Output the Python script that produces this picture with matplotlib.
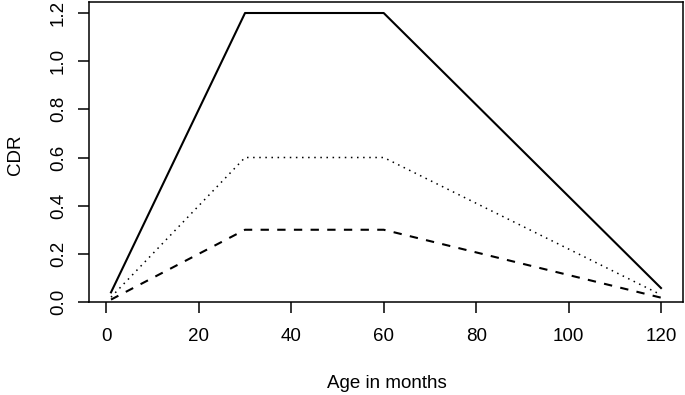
import matplotlib
matplotlib.use("Agg")
import matplotlib.pyplot as plt

age = [1, 30, 60, 120]
cdr_high = [0.04, 1.2, 1.2, 0.058]
cdr_mid = [0.02, 0.6, 0.6, 0.03]
cdr_low = [0.01, 0.3, 0.3, 0.018]
xticks = [0, 20, 40, 60, 80, 100, 120]
yticks = [0.0, 0.2, 0.4, 0.6, 0.8, 1.0, 1.2]

plt.rcParams['font.family'] = ['Liberation Sans', 'DejaVu Sans']

W, H = 685, 395
fig = plt.figure(figsize=(W / 100, H / 100), dpi=100)
left, right, top, bottom = 89, 683, 2, 302
ax = fig.add_axes([left / W, 1 - bottom / H, (right - left) / W, (bottom - top) / H])

ax.plot(age, cdr_high, color='black', lw=1.5, linestyle='-')
ax.plot(age, cdr_mid, color='black', lw=1.1, linestyle=(0, (1, 3)))
ax.plot(age, cdr_low, color='black', lw=1.5, linestyle=(0, (4, 4)))

ax.set_xlim(1 - 0.04 * 119, 120 + 0.04 * 119)
ax.set_ylim(0, 1.2457)
ax.set_xticks(xticks)
ax.set_xticklabels([str(v) for v in xticks])
ax.set_yticks(yticks)
ax.set_yticklabels([f"{v:.1f}" for v in yticks], rotation=90, va='center')
ax.tick_params(direction='out', length=8, width=1.1, labelsize=13.5)
ax.tick_params(axis='x', pad=10.5)
ax.tick_params(axis='y', pad=8)
for s in ax.spines.values():
    s.set_linewidth(1.1)

ax.set_xlabel("Age in months", fontsize=13.5)
ax.xaxis.label.set_va('baseline')
ax.xaxis.set_label_coords(386.5 / W, 1 - 388 / H, transform=fig.transFigure)
ax.set_ylabel("CDR", fontsize=13.5)
ax.yaxis.set_label_coords(24 / W, 1 - 155 / H, transform=fig.transFigure)

fig.savefig("out.png", dpi=100)
